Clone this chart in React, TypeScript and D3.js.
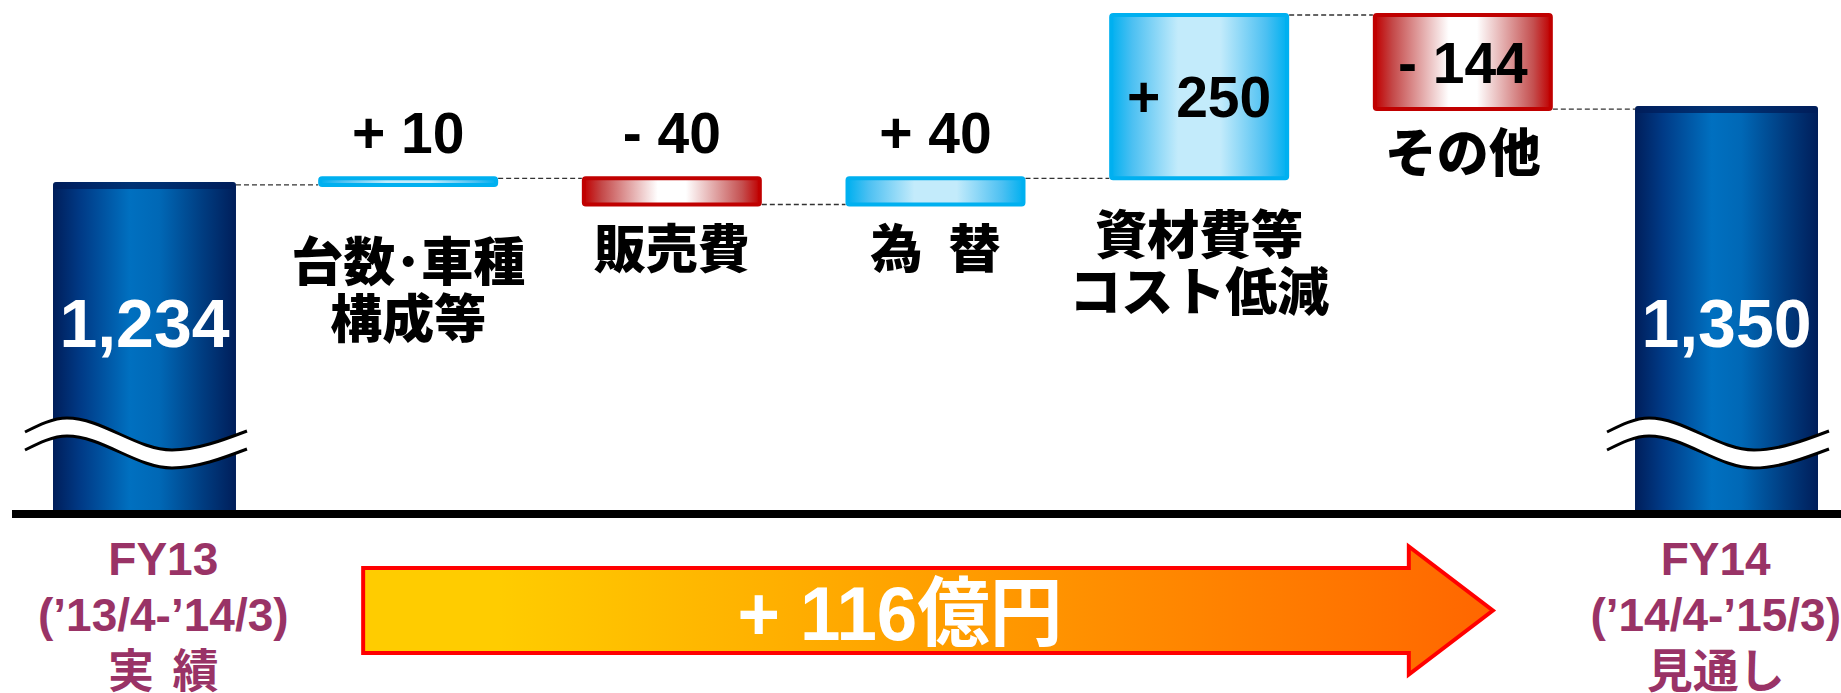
import React from "react";
import * as d3 from "d3";

// ---- data ----
const startPeriod = ["FY13", "(’13/4-’14/3)", "実 績"];
const endPeriod = ["FY14", "(’14/4-’15/3)", "見通し"];
const startTotal = 1234;
const endTotal = 1350;
const stepNames = [["台数･車種", "構成等"], ["販売費"], ["為\u2002替"], ["資材費等", "コスト低減"], ["その他"]];
const stepValues = [10, -40, 40, 250, -144];
const totalUnit = "億円";

const W = 1841;
const H = 693;
const NUM_FONT = "'Liberation Sans', Arial, 'Noto Sans CJK JP', sans-serif";
const JP_FONT = "'Noto Sans CJK JP', 'Noto Sans CJK SC', sans-serif";

type Step = { idx: number; value: number; from: number; to: number; lines: string[] };

function measure(text: string, font: string): number {
  try {
    const c = document.createElement("canvas").getContext("2d");
    if (!c) return text.length * 25;
    c.font = font;
    return c.measureText(text).width;
  } catch (e) {
    return text.length * 25;
  }
}

export default function App() {
  const steps: Step[] = [];
  let acc = startTotal;
  stepValues.forEach((v, i) => {
    steps.push({ idx: i + 1, value: v, from: acc, to: acc + v, lines: stepNames[i] });
    acc += v;
  });
  const levels = [startTotal, ...steps.map((s) => s.to)];
  const y = d3.scaleLinear().domain(d3.extent(levels) as [number, number]).range([204.5, 15]);
  const n = steps.length + 2;
  const x = d3.scaleBand<number>().domain(d3.range(n)).range([53, 1818]).paddingInner(0.306).paddingOuter(0);
  const bw = x.bandwidth();
  const xl = (i: number) => x(i) as number;
  const cx = (i: number) => xl(i) + bw / 2;
  const baseY = 510;
  const totals = [
    { idx: 0, value: startTotal, period: startPeriod },
    { idx: n - 1, value: endTotal, period: endPeriod },
  ];
  const fmtTotal = d3.format(",");
  const fmtStep = (v: number) => `${v >= 0 ? "+" : "-"} ${Math.abs(v)}`;

  const inset = 3.5;
  const stepLeft = (i: number) => xl(i) + inset;
  const stepRight = (i: number) => xl(i) + bw - inset;

  const connectors = levels.map((lv, k) => {
    const x1 = k === 0 ? xl(0) + bw : stepRight(k) + 2;
    const x2 = k + 1 === n - 1 ? xl(k + 1) : stepLeft(k + 1) - 2;
    return { x1, x2, y: y(lv) };
  });

  // bottom of each step bar in px
  const stepBottom = steps.map((s) => y(Math.min(s.from, s.to)));

  // wave break
  const waveY = baseY - 75.5;
  const waveGap = 18;
  const waveShape: [number, number][] = [
    [-28, -2.5],
    [14, -16.5],
    [119, 15.5],
    [bw + 11, -3.5],
  ];
  const waveLine = d3.line<[number, number]>().curve(d3.curveMonotoneX);
  const waveArea = d3
    .area<[number, number]>()
    .x((d) => d[0])
    .y0((d) => d[1])
    .y1((d) => d[1] + waveGap)
    .curve(d3.curveMonotoneX);

  // arrow
  const aL = cx(1) - 45;
  const aTip = cx(n - 2) + 30;
  const aHead = aTip - 84;
  const aC = 610.5;
  const bodyH = 42.5;
  const headH = 64;
  const arrowPath = `M${aL},${aC - bodyH}L${aHead},${aC - bodyH}L${aHead},${aC - headH}L${aTip},${aC}L${aHead},${aC + headH}L${aHead},${aC + bodyH}L${aL},${aC + bodyH}Z`;
  const change = endTotal - startTotal;

  const periodFont = "bold 46px 'Liberation Sans', Arial";
  const periodCenter = (t: { idx: number; period: string[] }) => {
    const w = Math.max(...t.period.map((l) => measure(l, periodFont)));
    let c = cx(t.idx);
    c = Math.max(c, 38 + w / 2);
    c = Math.min(c, W - w / 2);
    return c;
  };

  return (
    <svg width={W} height={H} style={{ position: "absolute", left: 0, top: 0, background: "#fff" }}>
      <defs>
        <linearGradient id="totGrad" x1="0" x2="1" y1="0" y2="0">
          <stop offset="0" stopColor="#001E5A" />
          <stop offset="0.15" stopColor="#003A86" />
          <stop offset="0.42" stopColor="#0070C0" />
          <stop offset="0.58" stopColor="#0068B6" />
          <stop offset="0.82" stopColor="#003C80" />
          <stop offset="1" stopColor="#001E5A" />
        </linearGradient>
        <linearGradient id="posGrad" x1="0" x2="1" y1="0" y2="0">
          <stop offset="0" stopColor="#00B0F0" />
          <stop offset="0.12" stopColor="#4CC0F2" />
          <stop offset="0.38" stopColor="#C3EBFB" />
          <stop offset="0.62" stopColor="#C3EBFB" />
          <stop offset="0.88" stopColor="#4CC0F2" />
          <stop offset="1" stopColor="#00B0F0" />
        </linearGradient>
        <linearGradient id="negGrad" x1="0" x2="1" y1="0" y2="0">
          <stop offset="0" stopColor="#C00000" />
          <stop offset="0.1" stopColor="#C44848" />
          <stop offset="0.42" stopColor="#FFFFFF" />
          <stop offset="0.58" stopColor="#FFFFFF" />
          <stop offset="0.9" stopColor="#C45050" />
          <stop offset="1" stopColor="#C00000" />
        </linearGradient>
        <linearGradient id="arrowGrad" x1="0" x2="1" y1="0" y2="0">
          <stop offset="0" stopColor="#FFCC00" />
          <stop offset="0.12" stopColor="#FFCC00" />
          <stop offset="1" stopColor="#FF6600" />
        </linearGradient>
      </defs>

      {/* connectors */}
      {connectors.map((c, k) => (
        <line key={`c${k}`} x1={c.x1} x2={c.x2} y1={c.y} y2={c.y} stroke="#333" strokeWidth={1.3} strokeDasharray="5 3" />
      ))}

      {/* total bars */}
      {totals.map((t) => {
        const top = y(t.value) - 3;
        const pts = waveShape.map(([dx, dy]) => [xl(t.idx) + dx, waveY + dy] as [number, number]);
        const lower = pts.map(([px, py]) => [px, py + waveGap] as [number, number]);
        const pc = periodCenter(t);
        return (
          <g key={`t${t.idx}`}>
            <rect x={xl(t.idx)} y={top} width={bw} height={baseY + 4 - top} rx={4} fill="url(#totGrad)" />
            <rect x={xl(t.idx)} y={top} width={bw} height={7} rx={3} fill="#001E5A" opacity={0.75} />
            <text
              x={cx(t.idx)}
              y={baseY - 163}
              textAnchor="middle"
              fontFamily={NUM_FONT}
              fontWeight="bold"
              fontSize={68}
              fill="#fff"
            >
              {fmtTotal(t.value)}
            </text>
            <path d={waveArea(pts) || ""} fill="#fff" />
            <path d={waveLine(pts) || ""} fill="none" stroke="#000" strokeWidth={3} />
            <path d={waveLine(lower) || ""} fill="none" stroke="#000" strokeWidth={3} />
            {t.period.map((line, li) => (
              <text
                key={li}
                x={pc}
                y={575 + li * 56}
                textAnchor="middle"
                fontFamily={li === 2 ? JP_FONT : NUM_FONT}
                fontWeight="bold"
                fontSize={46}
                fill="#993366"
                style={{ wordSpacing: li === 2 ? "8px" : undefined, whiteSpace: "pre" }}
              >
                {line}
              </text>
            ))}
          </g>
        );
      })}

      {/* step bars */}
      {steps.map((s, si) => {
        const hi = Math.max(s.from, s.to);
        const lo = Math.min(s.from, s.to);
        const yTop = y(hi);
        const yBot = y(lo);
        const pos = s.value >= 0;
        const h = yBot - yTop;
        const inside = h > 60;
        const labelY = inside ? (yTop + yBot) / 2 + 20.5 : yTop - 25;
        // category label sits below the bar, never above the next step's label row
        const ref = si + 1 < steps.length ? Math.max(yBot, stepBottom[si + 1]) : yBot;
        const catY = ref + (s.lines.length > 1 ? 76 : 63);
        return (
          <g key={`s${s.idx}`}>
            <rect
              x={stepLeft(s.idx)}
              y={yTop}
              width={stepRight(s.idx) - stepLeft(s.idx)}
              height={h}
              rx={2}
              fill={pos ? "url(#posGrad)" : "url(#negGrad)"}
              stroke={pos ? "#00B0F0" : "#C00000"}
              strokeWidth={4}
            />
            <text
              x={cx(s.idx)}
              y={labelY}
              textAnchor="middle"
              fontFamily={NUM_FONT}
              fontWeight="bold"
              fontSize={57}
              fill="#000"
            >
              {fmtStep(s.value)}
            </text>
            {s.lines.map((line, li) => (
              <text
                key={li}
                x={cx(s.idx)}
                y={catY + li * 57}
                textAnchor="middle"
                fontFamily={JP_FONT}
                fontWeight={900}
                fontSize={52}
                fill="#000"
              >
                {line}
              </text>
            ))}
          </g>
        );
      })}

      {/* baseline */}
      <rect x={12} y={baseY} width={W - 12} height={8} fill="#000" />

      {/* arrow */}
      <path d={arrowPath} fill="url(#arrowGrad)" stroke="#FF0000" strokeWidth={4} strokeLinejoin="miter" />
      <text
        x={(aL + aHead) / 2 + 14}
        y={aC + 29.5}
        textAnchor="middle"
        fontFamily={NUM_FONT}
        fontWeight="bold"
        fontSize={76}
        fill="#fff"
        textLength={325}
        lengthAdjust="spacingAndGlyphs"
      >
        {`${change >= 0 ? "+" : "-"} ${Math.abs(change)}${totalUnit}`}
      </text>
    </svg>
  );
}
